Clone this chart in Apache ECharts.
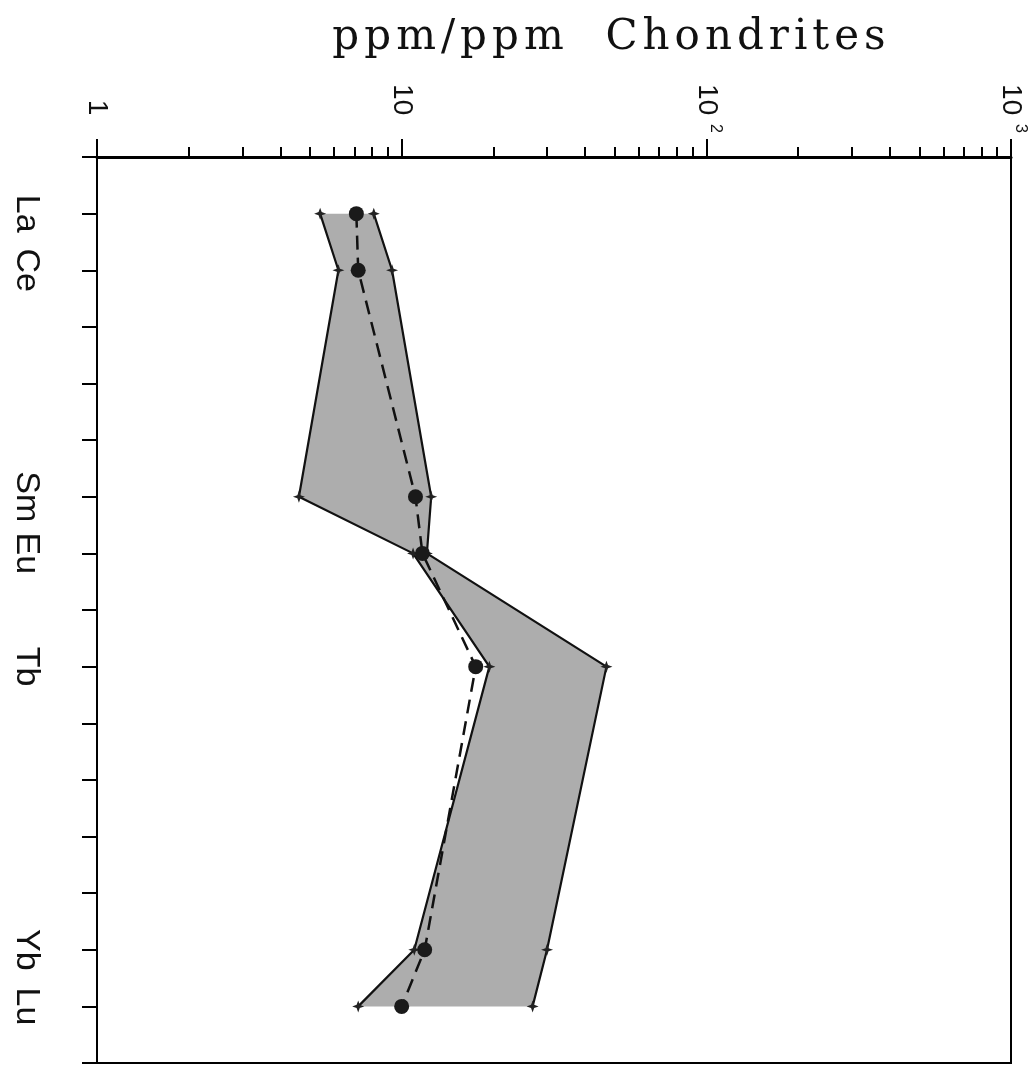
<!DOCTYPE html>
<html>
<head>
<meta charset="utf-8">
<title>REE chondrite-normalised pattern</title>
<script src="https://cdn.jsdelivr.net/npm/echarts@6/dist/echarts.min.js"></script>
<style>
    html, body { margin: 0; padding: 0; background: #fff; }
    #main { width: 1031px; height: 1072px; }
</style>
</head>
<body>
<div id="main"></div>
<script>
// rare earth elements down the category axis (La .. Lu)
const elements = ['La', 'Ce', 'Pr', 'Nd', 'Pm', 'Sm', 'Eu', 'Gd', 'Tb', 'Dy', 'Ho', 'Er', 'Tm', 'Yb', 'Lu']
// elements that were analysed (and get a label)
const measured = ['La', 'Ce', 'Sm', 'Eu', 'Tb', 'Yb', 'Lu']
// envelope of the range, ppm / ppm chondrites
const lowerBound = [5.4, 6.2, 4.6, 10.9, 19.4, 11.0, 7.2]
const upperBound = [8.1, 9.3, 12.5, 12.1, 47.0, 30.0, 26.9]
// sample pattern (dashed line, dots)
const sample = [7.1, 7.2, 11.1, 11.7, 17.5, 11.9, 10.0]
// log axis ticks
const majorTicks = [1, 10, 100, 1000]
const minorTicks = [2, 3, 4, 5, 6, 7, 8, 9, 20, 30, 40, 50, 60, 70, 80, 90, 200, 300, 400, 500, 600, 700, 800, 900]
const titleText = 'ppm/ppm  Chondrites'

const categories = [''].concat(elements, [''])
const pairs = (vals) => measured.map((el, i) => [vals[i], el])

// letter-spaced title: every character is its own rich token with side padding
const spacedTitle = titleText.split('').map((c) => '{c|' + c + '}').join('')

const star = 'path://M0,-10 L2.6,-2.6 L10,0 L2.6,2.6 L0,10 L-2.6,2.6 L-10,0 L-2.6,-2.6 Z'

const chartDom = document.getElementById('main')
const myChart = echarts.init(chartDom, null, { renderer: 'canvas' })

const option = {
    animation: false,
    backgroundColor: '#fff',
    title: {
        text: spacedTitle,
        left: 604,
        top: 12,
        textAlign: 'center',
        textStyle: {
            fontFamily: '"DejaVu Serif", serif',
            fontWeight: 'normal',
            fontSize: 42,
            color: '#111',
            rich: {
                c: {
                    fontFamily: '"DejaVu Serif", serif',
                    fontSize: 42,
                    color: '#111',
                    padding: [0, 2.5, 0, 2.5]
                }
            }
        }
    },
    grid: {
        left: 97,
        right: 20,
        top: 157,
        bottom: 9,
        show: true,
        borderColor: '#000',
        borderWidth: 2
    },
    xAxis: [
        {
            type: 'log',
            logBase: 10,
            position: 'top',
            min: 1,
            max: 1000,
            axisLine: { show: true, lineStyle: { color: '#000', width: 3 } },
            axisTick: { show: true, length: 18, customValues: majorTicks, lineStyle: { color: '#000', width: 2 } },
            axisLabel: {
                rotate: 90,
                margin: 24,
                customValues: majorTicks,
                fontFamily: '"Liberation Sans", sans-serif',
                fontSize: 28,
                color: '#111',
                formatter: (v) => {
                    const e = Math.round(Math.log10(v))
                    if (e === 0) return '{num|1}{hide|  2}'
                    if (e === 1) return '{num|10}{hide|  2}'
                    return '{num|10}{sup|  ' + e + '}'
                },
                rich: {
                    num: { fontSize: 28, lineHeight: 34, color: '#111', fontFamily: '"Liberation Sans", sans-serif' },
                    sup: { fontSize: 16, lineHeight: 34, verticalAlign: 'top', color: '#111', fontFamily: '"Liberation Sans", sans-serif' },
                    hide: { fontSize: 16, lineHeight: 34, color: 'rgba(0,0,0,0)', fontFamily: '"Liberation Sans", sans-serif' }
                }
            },
            splitLine: { show: false }
        },
        {
            type: 'log',
            logBase: 10,
            position: 'top',
            min: 1,
            max: 1000,
            axisLine: { show: false },
            axisTick: { show: true, length: 10, customValues: minorTicks, lineStyle: { color: '#000', width: 2 } },
            axisLabel: { show: false },
            splitLine: { show: false }
        }
    ],
    yAxis: {
        type: 'category',
        inverse: true,
        boundaryGap: false,
        data: categories,
        axisLine: { show: true, lineStyle: { color: '#000', width: 2 } },
        axisTick: { show: true, length: 15, interval: 0, lineStyle: { color: '#000', width: 2 } },
        axisLabel: {
            interval: 0,
            rotate: -90,
            margin: 54,
            fontFamily: '"Liberation Sans", sans-serif',
            fontSize: 34,
            color: '#111',
            formatter: (v) => (measured.indexOf(v) >= 0 ? v : '')
        },
        splitLine: { show: false }
    },
    series: [
        {
            // shaded envelope between the two bounds
            type: 'custom',
            xAxisIndex: 0,
            z: 1,
            silent: true,
            data: [0],
            renderItem: (params, api) => {
                const lo = measured.map((el, i) => api.coord([lowerBound[i], categories.indexOf(el)]))
                const hi = measured.map((el, i) => api.coord([upperBound[i], categories.indexOf(el)])).reverse()
                return {
                    type: 'polygon',
                    shape: { points: lo.concat(hi) },
                    style: { fill: '#adadad', stroke: null }
                }
            }
        },
        {
            name: 'lower',
            type: 'line',
            xAxisIndex: 0,
            z: 3,
            data: pairs(lowerBound),
            symbol: star,
            symbolSize: 12,
            itemStyle: { color: '#222' },
            lineStyle: { color: '#111', width: 2.2 }
        },
        {
            name: 'upper',
            type: 'line',
            xAxisIndex: 0,
            z: 3,
            data: pairs(upperBound),
            symbol: star,
            symbolSize: 12,
            itemStyle: { color: '#222' },
            lineStyle: { color: '#111', width: 2.2 }
        },
        {
            name: 'sample',
            type: 'line',
            xAxisIndex: 0,
            z: 4,
            data: pairs(sample),
            symbol: 'circle',
            symbolSize: 15,
            itemStyle: { color: '#1a1a1a' },
            lineStyle: { color: '#111', width: 2.5, type: [14, 8] }
        }
    ]
}

option && myChart.setOption(option)
window.addEventListener('resize', () => {
    myChart.resize()
})
</script>
</body>
</html>
